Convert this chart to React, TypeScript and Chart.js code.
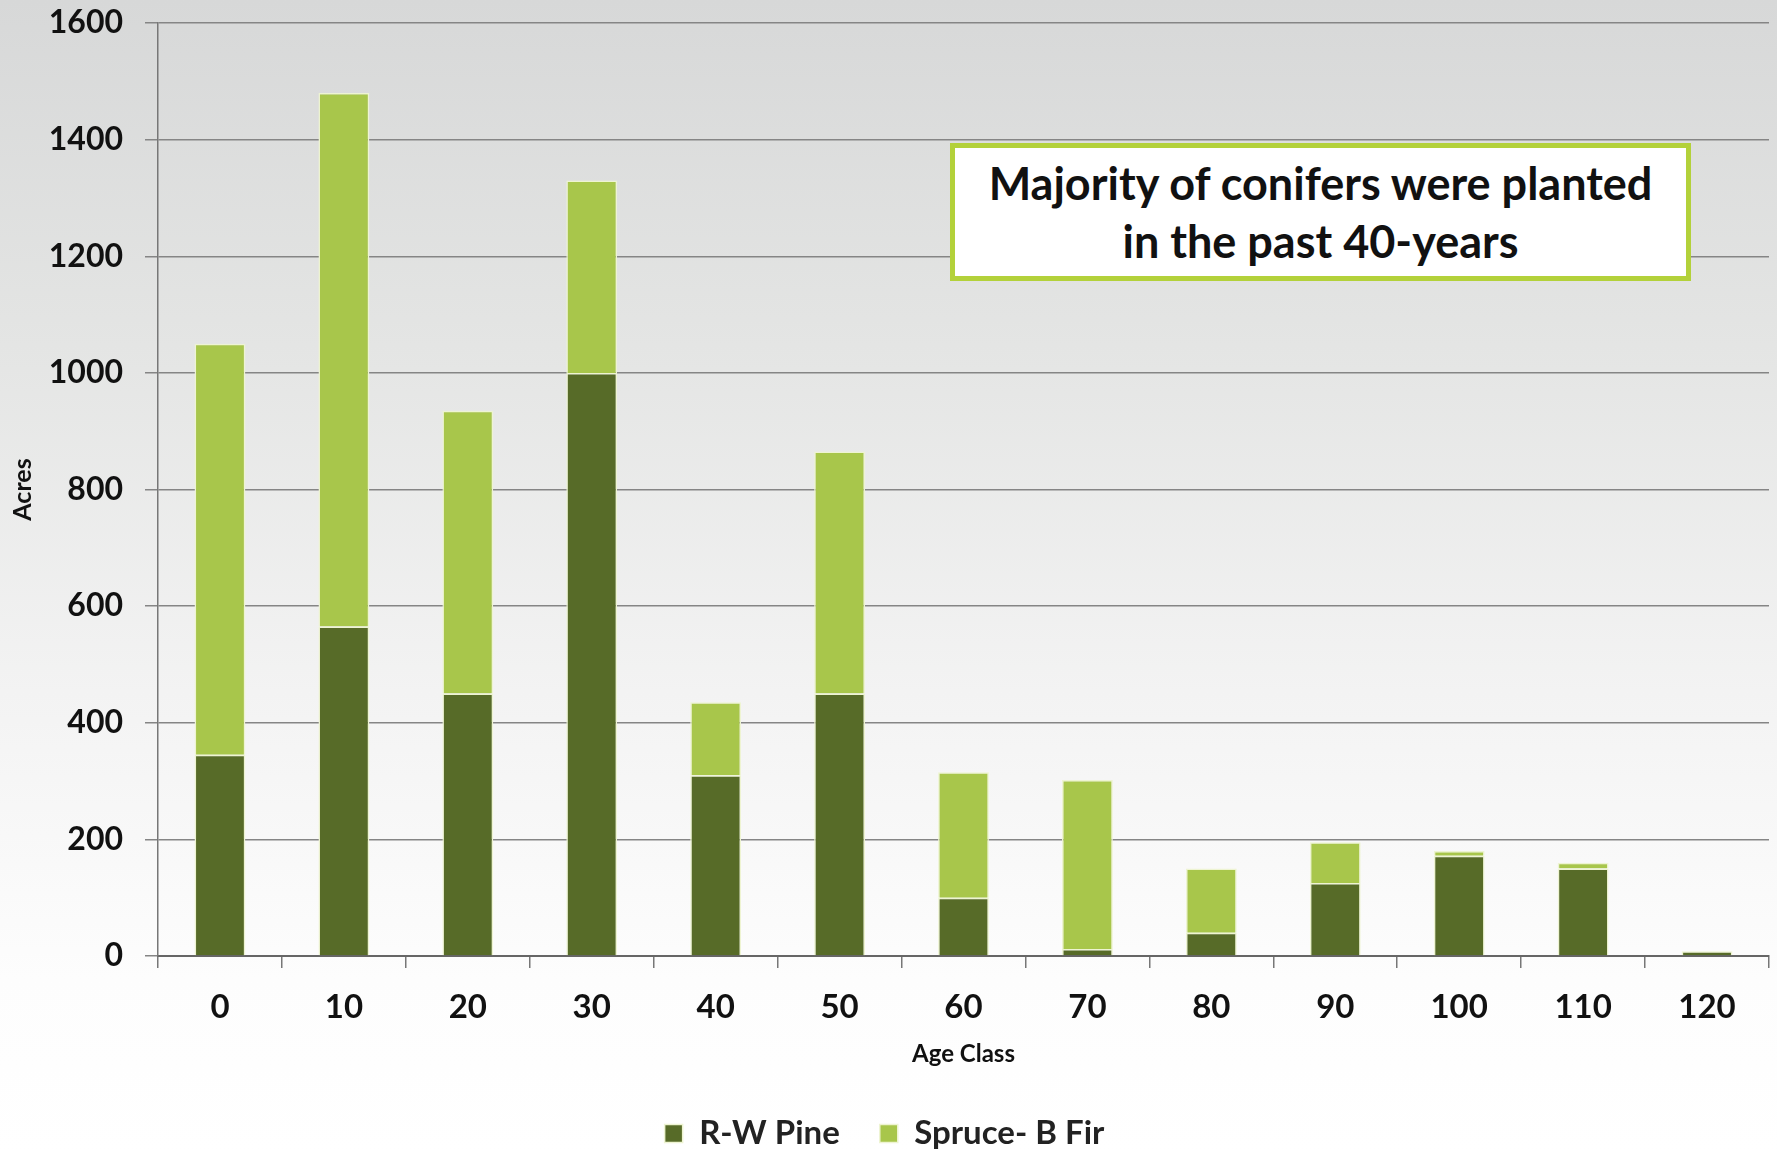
import React, { useEffect, useRef } from "react";
import { Chart, registerables } from "chart.js";

Chart.register(...registerables);

const ageClasses = ["0", "10", "20", "30", "40", "50", "60", "70", "80", "90", "100", "110", "120"];
const rwPine = [345, 565, 450, 1000, 310, 450, 100, 12, 40, 125, 172, 150, 8];
const spruceFir = [705, 915, 485, 330, 125, 415, 215, 290, 110, 70, 8, 10, 0];
const seriesNames = ["R-W Pine", "Spruce- B Fir"];
const annotationLines = ["Majority of conifers were planted", "in the past 40-years"];

const FONT = "Lato, 'Open Sans', 'DejaVu Sans', sans-serif";

export default function App() {
  const canvasRef = useRef<HTMLCanvasElement | null>(null);

  useEffect(() => {
    const ctx = canvasRef.current;
    if (!ctx) return;
    const chart = new Chart(ctx, {
      type: "bar",
      data: {
        labels: ageClasses,
        datasets: [
          {
            label: seriesNames[0],
            data: rwPine,
            backgroundColor: "#576b28",
            borderColor: "#eef4d2",
            borderWidth: 1.5,
            categoryPercentage: 1,
            barPercentage: 0.41,
          },
          {
            label: seriesNames[1],
            data: spruceFir,
            backgroundColor: "#a8c64b",
            borderColor: "#eef4d2",
            borderWidth: 1.5,
            categoryPercentage: 1,
            barPercentage: 0.41,
          },
        ],
      },
      options: {
        animation: false,
        responsive: false,
        maintainAspectRatio: false,
        layout: { padding: { top: 23, right: 8, left: 0, bottom: -8 } },
        plugins: {
          legend: {
            position: "bottom",
            labels: {
              color: "#222",
              font: { family: FONT, size: 33, weight: "bold" },
              boxWidth: 18,
              boxHeight: 18,
              padding: 40,
              useBorderRadius: false,
            },
          },
          tooltip: { enabled: false },
        },
        scales: {
          x: {
            stacked: true,
            offset: true,
            grid: {
              display: true,
              drawOnChartArea: false,
              drawTicks: true,
              tickLength: 12,
              color: "#777",
              lineWidth: 1.5,
              offset: true,
            },
            border: { display: true, color: "#666", width: 2 },
            ticks: {
              color: "#111",
              font: { family: FONT, size: 33, weight: "bold" },
              padding: 20,
            },
            title: {
              display: true,
              text: "Age Class",
              color: "#111",
              font: { family: FONT, size: 24, weight: "bold" },
              padding: { top: 4, bottom: 8 },
            },
            afterFit: (s: any) => {
              s.height = 121;
            },
          },
          y: {
            stacked: true,
            min: 0,
            max: 1600,
            ticks: {
              stepSize: 200,
              color: "#111",
              font: { family: FONT, size: 32, weight: "bold" },
              padding: 22,
              callback: (v: any) => String(v),
            },
            grid: {
              color: "#858585",
              lineWidth: 1.5,
              tickLength: 13,
            },
            border: { display: true, color: "#777", width: 1.5 },
            title: {
              display: true,
              text: "Acres",
              color: "#111",
              font: { family: FONT, size: 25, weight: "bold" },
              padding: { top: 8, bottom: 0 },
            },
            afterFit: (s: any) => {
              s.width = 158;
              s.paddingTop = 0;
              s.paddingBottom = 0;
            },
          },
        },
      },
    });
    return () => chart.destroy();
  }, []);

  return (
    <div
      style={{
        position: "absolute",
        left: 0,
        top: 0,
        width: 1777,
        height: 1152,
        overflow: "hidden",
        background: "linear-gradient(180deg, #d7d8d8 0%, #e4e5e4 30%, #f3f3f3 60%, #fdfdfd 85%, #ffffff 100%)",
      }}
    >
      <canvas ref={canvasRef} width={1777} height={1152} style={{ position: "absolute", left: 0, top: 0 }} />
      <div
        style={{
          position: "absolute",
          left: 950,
          top: 143,
          width: 741,
          height: 138,
          boxSizing: "border-box",
          border: "5px solid #b3d13a",
          background: "#ffffff",
          display: "flex",
          flexDirection: "column",
          justifyContent: "center",
          alignItems: "center",
          fontFamily: FONT,
          fontWeight: 700,
          fontSize: 45,
          lineHeight: "58px",
          color: "#111",
          whiteSpace: "nowrap",
        }}
      >
        {annotationLines.map((l) => (
          <div key={l}>{l}</div>
        ))}
      </div>
    </div>
  );
}
